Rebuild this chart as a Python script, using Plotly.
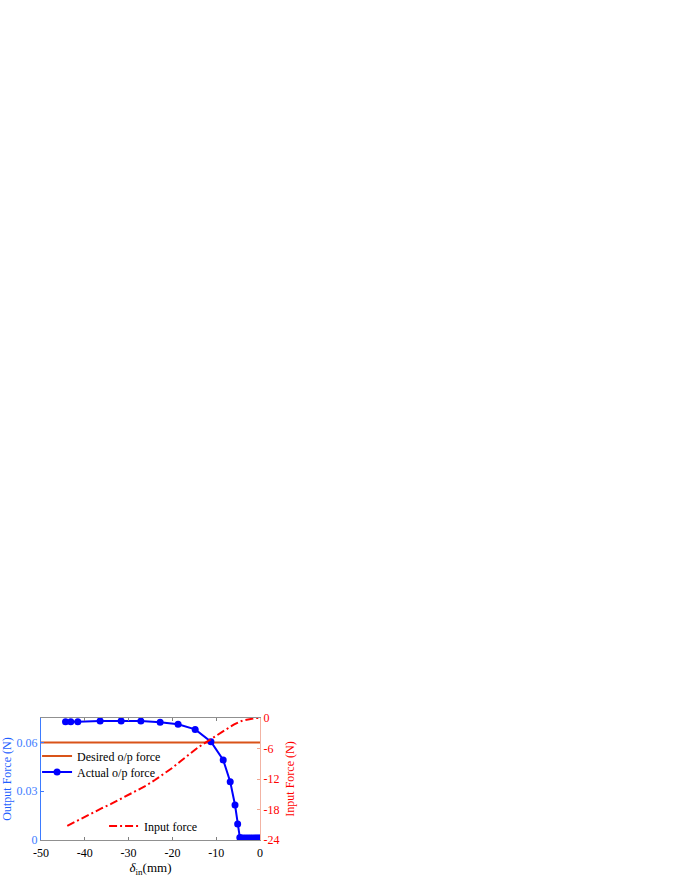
import plotly.graph_objects as go

# ---- data ----
actual_x = [-44.4, -43.2, -41.6, -36.5, -31.7, -27.2, -22.8, -18.7, -14.8, -11.2,
            -8.4, -6.8, -5.7, -5.1, -4.6, -4.2, -3.7, -3.2, -2.7, -2.2, -1.7, -1.2, -0.8, -0.4, 0.0]
actual_y = [0.0727, 0.0727, 0.0727, 0.0732, 0.0732, 0.0731, 0.0724, 0.0711, 0.0680, 0.0604,
            0.0492, 0.0358, 0.0215, 0.0098, 0.0015, 0.0012, 0.0012, 0.0012, 0.0012, 0.0012,
            0.0012, 0.0012, 0.0012, 0.0012, 0.0012]

desired_x = [-50, 0]
desired_y = [0.06, 0.06]

input_x = [-44, -42, -40, -38, -36, -34, -32, -30, -28, -26, -24, -22, -20, -18,
           -16, -14, -12, -10, -8, -6, -4, -2, -1, 0]
input_y = [-21.2, -20.3, -19.4, -18.5, -17.7, -16.9, -16.0, -15.2, -14.3, -13.3, -12.2,
           -11.0, -9.8, -8.4, -7.0, -5.7, -4.6, -3.5, -2.4, -1.3, -0.5, -0.1, -0.02, 0.0]

x_ticks = [-50, -40, -30, -20, -10, 0]
x_tick_text = ["-50", "-40", "-30", "-20", "-10", "0"]
yl_ticks = [0, 0.03, 0.06]
yl_tick_text = ["0", "0.03", "0.06"]
yr_ticks = [-24, -18, -12, -6, 0]
yr_tick_text = ["-24", "-18", "-12", "-6", "0"]

FONT = "Liberation Serif"
BLUE_AX = "#3D7BFF"
RED = "#FF0000"
ORANGE = "#D95319"

fig = go.Figure()
fig.add_trace(go.Scatter(x=desired_x, y=desired_y, mode="lines", name="Desired o/p force",
                         line=dict(color=ORANGE, width=2), legend="legend"))
fig.add_trace(go.Scatter(x=actual_x, y=actual_y, mode="lines+markers", name="Actual o/p force",
                         line=dict(color="#0000FF", width=2),
                         marker=dict(symbol="circle", size=7, color="#0000FF"), legend="legend2"))
fig.add_trace(go.Scatter(x=input_x, y=input_y, mode="lines", name="Input force", yaxis="y2",
                         line=dict(color=RED, width=2, dash="8px,3px,2px,3px"), legend="legend3"))

leg_common = dict(xanchor="left", yanchor="middle", bgcolor="rgba(0,0,0,0)",
                  font=dict(size=12, family=FONT), itemwidth=30, borderwidth=0)

fig.update_layout(
    width=680, height=880,
    paper_bgcolor="white", plot_bgcolor="white",
    margin=dict(l=41, r=420, t=718, b=40),
    font=dict(family=FONT, size=12, color="black"),
    xaxis=dict(range=[-50, 0], tickvals=x_ticks, ticktext=x_tick_text, automargin=False,
               ticks="inside", ticklen=3, tickcolor="#808080", showline=True,
               linecolor="#909090", linewidth=1, mirror="ticks", showgrid=False, zeroline=False,
               ticklabelstandoff=2,
               title=dict(text="<i>δ</i><sub>in</sub>(mm)", standoff=1, font=dict(size=13)),
               tickfont=dict(size=12)),
    yaxis=dict(range=[0, 0.075], tickvals=yl_ticks, ticktext=yl_tick_text, automargin=False,
               ticks="inside", ticklen=3, tickcolor=BLUE_AX, showline=True,
               linecolor=BLUE_AX, linewidth=1, showgrid=False, zeroline=False,
               tickfont=dict(size=12, color=BLUE_AX),
               title=dict(text="Output Force (N)", standoff=8, font=dict(size=12, color="#1F5FFF"))),
    yaxis2=dict(range=[-24, 0], tickvals=yr_ticks, ticktext=yr_tick_text, overlaying="y",
                automargin=False,
                side="right", ticks="inside", ticklen=3, tickcolor="#F2A590", showline=True,
                linecolor="#F2B3A3", linewidth=1, showgrid=False, zeroline=False,
                tickfont=dict(size=12, color=RED),
                title=dict(text="Input Force (N)", standoff=7, font=dict(size=12, color=RED))),
    legend=dict(x=-0.018, y=0.689, **leg_common),
    legend2=dict(x=-0.018, y=0.557, **leg_common),
    legend3=dict(x=0.288, y=0.115, **leg_common),
    showlegend=True,
)

fig.write_html("out.html", config={"displayModeBar": False},
               post_script="document.body.style.margin='0px';")
